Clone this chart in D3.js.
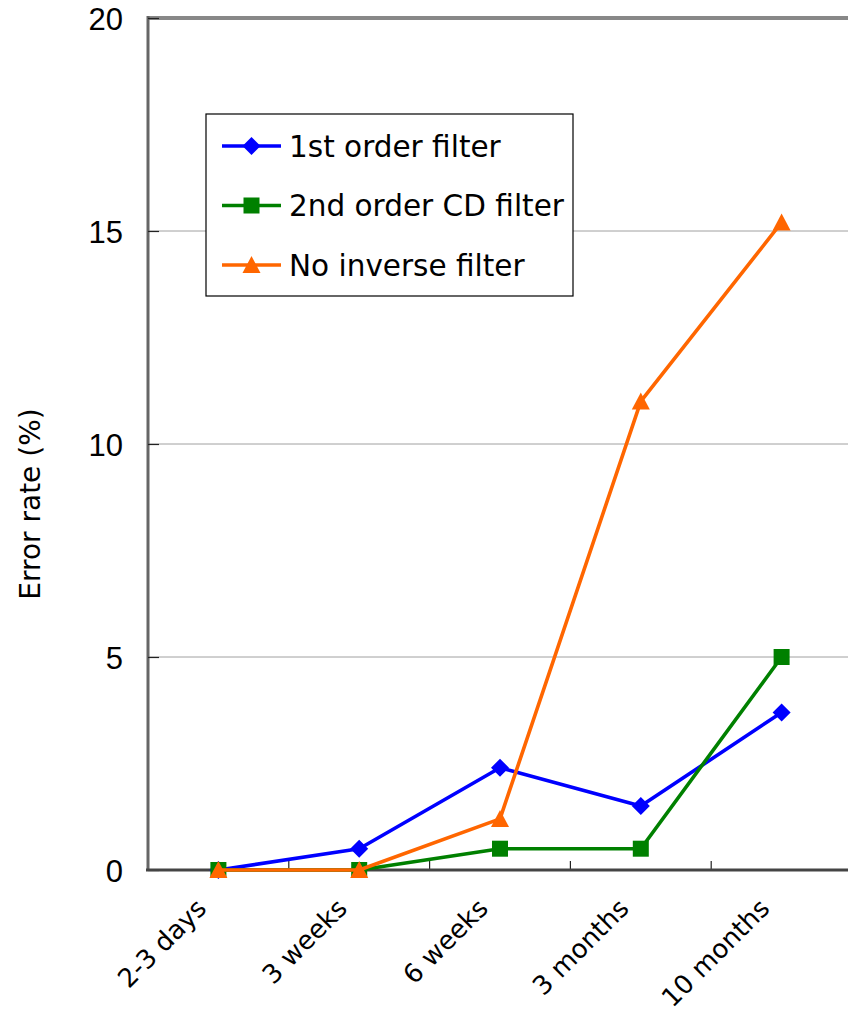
<!DOCTYPE html>
<html>
<head>
<meta charset="utf-8">
<script src="https://cdn.jsdelivr.net/npm/d3@7"></script>
<style>
  html, body { margin: 0; padding: 0; background: #fff; overflow: hidden; }
  svg { display: block; font-family: "DejaVu Sans", Verdana, sans-serif; }
</style>
</head>
<body>
<svg id="chart" width="848" height="1014"></svg>
<script>
// Storage periods and error rates (%) for each filtering method
const categories = ["2-3 days", "3 weeks", "6 weeks", "3 months", "10 months"];
const firstOrder = [0, 0.5, 2.4, 1.5, 3.7];
const secondOrderCD = [0, 0, 0.5, 0.5, 5.0];
const noInverse = [0, 0, 1.2, 11.0, 15.2];
const yTicks = [0, 5, 10, 15, 20];
const seriesNames = ["1st order filter", "2nd order CD filter", "No inverse filter"];

const series = [
  { name: seriesNames[0], values: firstOrder, color: "#0000ff", marker: "diamond" },
  { name: seriesNames[1], values: secondOrderCD, color: "#008000", marker: "square" },
  { name: seriesNames[2], values: noInverse, color: "#ff6600", marker: "triangle" }
];

const svg = d3.select("#chart");
const plotLeft = 148, plotRight = 852, plotTop = 18, plotBottom = 870;

const x = d3.scaleBand().domain(categories).range([plotLeft, plotRight]);
const y = d3.scaleLinear().domain([0, 20]).range([plotBottom, plotTop]);
const cx = c => x(c) + x.bandwidth() / 2;

// horizontal gridlines
svg.append("g").selectAll("line")
  .data(yTicks.filter(t => t > 0 && t < 20))
  .join("line")
  .attr("x1", plotLeft).attr("x2", plotRight)
  .attr("y1", d => y(d)).attr("y2", d => y(d))
  .attr("stroke", "#a0a0a0").attr("stroke-width", 1);

// plot frame: top and left edges
svg.append("line").attr("x1", plotLeft).attr("x2", plotRight).attr("y1", plotTop).attr("y2", plotTop)
  .attr("stroke", "#888").attr("stroke-width", 4);
svg.append("line").attr("x1", plotLeft).attr("x2", plotLeft).attr("y1", plotTop - 2).attr("y2", plotBottom)
  .attr("stroke", "#666").attr("stroke-width", 3);

// y axis ticks and labels
const yAxis = d3.axisRight(y).tickValues(yTicks).tickSize(11).tickFormat(d3.format("d"));
const gy = svg.append("g").attr("transform", `translate(${plotLeft},0)`).call(yAxis);
gy.select(".domain").remove();
gy.selectAll(".tick line").attr("stroke", "#222").attr("stroke-width", 1.2);
gy.selectAll(".tick text")
  .attr("x", -25).attr("text-anchor", "end")
  .attr("dy", "0.36em")
  .attr("font-size", 31).attr("fill", "#000");

// x axis with inward ticks at category boundaries
const boundaries = categories.map(c => x(c)).concat([plotRight]);
svg.append("g").selectAll("line")
  .data(boundaries.slice(1))
  .join("line")
  .attr("x1", d => d).attr("x2", d => d)
  .attr("y1", plotBottom).attr("y2", plotBottom - 9)
  .attr("stroke", "#222").attr("stroke-width", 1.2);
svg.append("line").attr("x1", plotLeft - 2).attr("x2", plotRight).attr("y1", plotBottom).attr("y2", plotBottom)
  .attr("stroke", "#444").attr("stroke-width", 3);

svg.append("g").selectAll("text")
  .data(categories)
  .join("text")
  .attr("transform", d => `translate(${cx(d) - 10.5},${plotBottom + 40}) rotate(-45)`)
  .attr("text-anchor", "end")
  .attr("font-size", 26)
  .attr("fill", "#000")
  .text(d => d);

// y axis title
svg.append("text")
  .attr("transform", `translate(40,${(plotTop + plotBottom) / 2 + 60}) rotate(-90)`)
  .attr("text-anchor", "middle")
  .attr("font-size", 28)
  .attr("fill", "#000")
  .text("Error rate (%)");

// marker drawing helper
function drawMarker(g, type, color) {
  if (type === "diamond") {
    g.append("path").attr("d", "M0,-9L9,0L0,9L-9,0Z").attr("fill", color);
  } else if (type === "square") {
    g.append("rect").attr("x", -8).attr("y", -8).attr("width", 16).attr("height", 16).attr("fill", color);
  } else {
    g.append("path").attr("d", "M0,-9L9,8L-9,8Z").attr("fill", color);
  }
}

const line = d3.line().x(d => cx(d.c)).y(d => y(d.v));

series.forEach(s => {
  const pts = categories.map((c, i) => ({ c, v: s.values[i] }));
  svg.append("path")
    .datum(pts)
    .attr("d", line)
    .attr("fill", "none")
    .attr("stroke", s.color)
    .attr("stroke-width", 3.6)
    .attr("stroke-linejoin", "round");
  svg.append("g").selectAll("g")
    .data(pts)
    .join("g")
    .attr("transform", d => `translate(${cx(d.c)},${y(d.v)})`)
    .each(function () { drawMarker(d3.select(this), s.marker, s.color); });
});

// legend
const legend = svg.append("g").attr("transform", "translate(206,114)");
legend.append("rect")
  .attr("width", 367).attr("height", 182)
  .attr("fill", "#fff").attr("stroke", "#000").attr("stroke-width", 1.2);
series.forEach((s, i) => {
  const ly = 32 + i * 59.5;
  const row = legend.append("g").attr("transform", `translate(0,${ly})`);
  row.append("line").attr("x1", 16).attr("x2", 75).attr("y1", 0).attr("y2", 0)
    .attr("stroke", s.color).attr("stroke-width", 3.6);
  drawMarker(row.append("g").attr("transform", "translate(45.5,0)"), s.marker, s.color);
  row.append("text")
    .attr("x", 83).attr("y", 0).attr("dy", "0.36em")
    .attr("font-size", 29.5).attr("fill", "#000")
    .text(s.name);
});
</script>
</body>
</html>
